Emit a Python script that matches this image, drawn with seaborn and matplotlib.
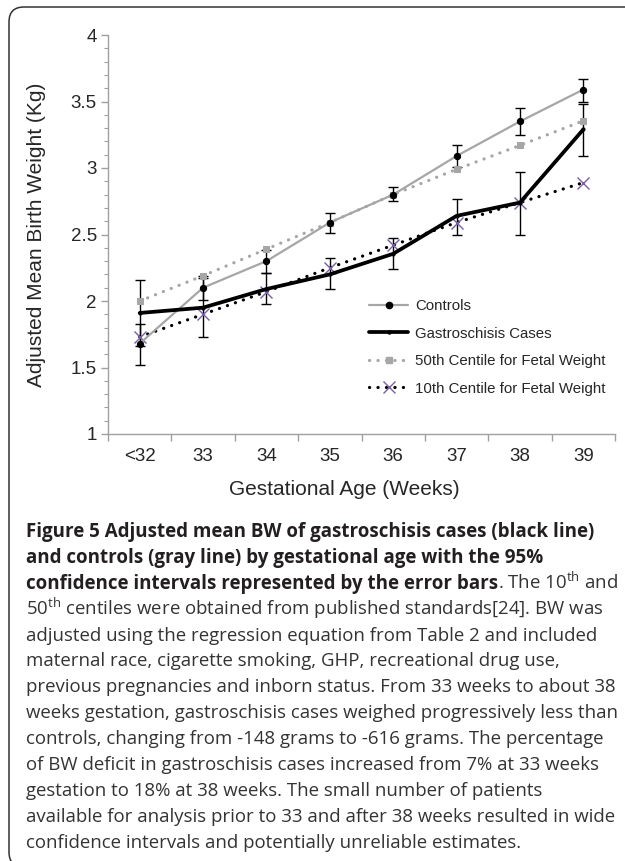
import numpy as np
import pandas as pd
import matplotlib
matplotlib.use("Agg")
import matplotlib.pyplot as plt
import seaborn as sns
from matplotlib.lines import Line2D
from matplotlib.patches import FancyBboxPatch
from matplotlib.ticker import MultipleLocator, FuncFormatter

# ── Datos ───────────────────────────────────────────────────────────────────
weeks = ["<32", "33", "34", "35", "36", "37", "38", "39"]

controls    = [1.68, 2.10, 2.30, 2.59, 2.80, 3.09, 3.35, 3.59]
controls_lo = [1.52, 2.01, 2.21, 2.51, 2.75, 3.01, 3.25, 3.50]
controls_hi = [1.83, 2.19, 2.385, 2.66, 2.86, 3.17, 3.45, 3.67]

cases    = [1.91, 1.95, 2.09, 2.20, 2.355, 2.64, 2.74, 3.29]
cases_lo = [1.66, 1.73, 1.98, 2.09, 2.24, 2.50, 2.50, 3.09]
cases_hi = [2.16, 2.17, 2.21, 2.32, 2.47, 2.77, 2.97, 3.48]

centile50 = [2.00, 2.19, 2.39, 2.59, 2.80, 2.99, 3.17, 3.355]
centile10 = [1.73, 1.90, 2.07, 2.25, 2.42, 2.59, 2.74, 2.89]

labels = ["Controls", "Gastroschisis Cases",
          "50th Centile for Fetal Weight", "10th Centile for Fetal Weight"]

caption_bold = [
    "Figure 5 Adjusted mean BW of gastroschisis cases (black line)",
    "and controls (gray line) by gestational age with the 95%",
    "confidence intervals represented by the error bars",
]
caption_rest = [
    r". The 10$^{\mathrm{th}}$ and",
    r"50$^{\mathrm{th}}$ centiles were obtained from published standards[24]. BW was",
    "adjusted using the regression equation from Table 2 and included",
    "maternal race, cigarette smoking, GHP, recreational drug use,",
    "previous pregnancies and inborn status. From 33 weeks to about 38",
    "weeks gestation, gastroschisis cases weighed progressively less than",
    "controls, changing from -148 grams to -616 grams. The percentage",
    "of BW deficit in gastroschisis cases increased from 7% at 33 weeks",
    "gestation to 18% at 38 weeks. The small number of patients",
    "available for analysis prior to 33 and after 38 weeks resulted in wide",
    "confidence intervals and potentially unreliable estimates.",
]

df = pd.DataFrame({
    "pos": np.arange(len(weeks)),
    "controls": controls,
    "cases": cases,
    "c50": centile50,
    "c10": centile10,
})

# ── Estilo ──────────────────────────────────────────────────────────────────
sns.set_style("white")
plt.rcParams["font.family"] = ["Liberation Sans", "DejaVu Sans"]
plt.rcParams["mathtext.fontset"] = "custom"
plt.rcParams["mathtext.rm"] = "Open Sans"
plt.rcParams["mathtext.bf"] = "Open Sans:bold"

GRAY = "#a6a6a6"
PURPLE = "#7a5fa6"
DOTS = (0, (0.05, 2.6))

st_controls = dict(color=GRAY, lw=1.6, marker="o", ms=4.5, mfc="black", mec="black")
st_cases = dict(color="black", lw=2.7, marker="o", ms=2.2, mfc="black", mec="black")
st_c50 = dict(color=GRAY, lw=2.3, linestyle=DOTS, dash_capstyle="round",
              marker="s", ms=4.5, mfc=GRAY, mec=GRAY)
st_c10 = dict(color="black", lw=2.3, linestyle=DOTS, dash_capstyle="round",
              marker="x", ms=9, mew=1.0, mfc=PURPLE, mec=PURPLE)

W, H = 625, 861
fig = plt.figure(figsize=(W / 100, H / 100), dpi=100)
ax = fig.add_axes([108 / W, 1 - 434 / H, 507 / W, 399 / H])

# barras de error (IC 95 %)
ax.errorbar(df["pos"], controls,
            yerr=[np.subtract(controls, controls_lo), np.subtract(controls_hi, controls)],
            fmt="none", ecolor="black", elinewidth=1, capsize=3.8, capthick=1, zorder=2)
ax.errorbar(df["pos"], cases,
            yerr=[np.subtract(cases, cases_lo), np.subtract(cases_hi, cases)],
            fmt="none", ecolor="black", elinewidth=1, capsize=3.8, capthick=1, zorder=2)

sns.lineplot(data=df, x="pos", y="c50", ax=ax, errorbar=None, zorder=3, **st_c50)
sns.lineplot(data=df, x="pos", y="controls", ax=ax, errorbar=None, zorder=4, **st_controls)
sns.lineplot(data=df, x="pos", y="c10", ax=ax, errorbar=None, zorder=3, **st_c10)
sns.lineplot(data=df, x="pos", y="cases", ax=ax, errorbar=None, zorder=5, **st_cases)

# ejes
ax.set_xlim(-0.5, len(weeks) - 0.5)
ax.set_ylim(1, 4)
ax.yaxis.set_major_locator(MultipleLocator(0.5))
ax.yaxis.set_minor_locator(MultipleLocator(0.1))
ax.yaxis.set_major_formatter(FuncFormatter(lambda v, p: f"{v:g}"))
ax.set_xticks(np.arange(-0.5, len(weeks), 1))
ax.set_xticklabels([])
ax.set_xticks(df["pos"], labels=weeks, minor=True)

for s in ["top", "right"]:
    ax.spines[s].set_visible(False)
for s in ["left", "bottom"]:
    ax.spines[s].set_color("#a0a0a0")
    ax.spines[s].set_linewidth(1.0)

ax.tick_params(axis="y", which="major", direction="out", length=5, width=1,
               color="#a0a0a0", labelsize=13.5, pad=3, left=True)
ax.tick_params(axis="y", which="minor", direction="out", length=3, width=0.8,
               color="#a0a0a0", left=True)
ax.tick_params(axis="x", which="major", direction="out", length=5, width=1,
               color="#a0a0a0", bottom=True)
ax.tick_params(axis="x", which="minor", length=0, labelsize=13.5, pad=10)

ax.set_xlabel("Gestational Age (Weeks)", fontsize=15)
ax.set_ylabel("Adjusted Mean Birth Weight (Kg)", fontsize=15)
ax.xaxis.set_label_coords(0.466, -0.115)
ax.yaxis.set_label_coords(-0.122, 0.5)

handles = [Line2D([], [], **st_controls), Line2D([], [], **st_cases),
           Line2D([], [], **st_c50), Line2D([], [], **st_c10)]
ax.legend(handles, labels, loc="upper left", bbox_to_anchor=(0.515, 0.338),
          frameon=False, fontsize=10.8, handlelength=2.6, handletextpad=0.45,
          labelspacing=0.9, borderpad=0, borderaxespad=0)

# ── Pie de figura ───────────────────────────────────────────────────────────
X0 = 26 / W
BASE0 = 537
STEP = 25.9
CAP = dict(family=["Open Sans", "DejaVu Sans"], va="baseline")

lines_txt = []
for i, t in enumerate(caption_bold):
    lines_txt.append(fig.text(X0, 1 - (BASE0 + i * STEP) / H, t, fontsize=13.5,
                              fontweight="bold", color="#231f20", **CAP))

renderer = fig.canvas.get_renderer()
x_end = lines_txt[2].get_window_extent(renderer=renderer).x1 / fig.bbox.width
fig.text(x_end, 1 - (BASE0 + 2 * STEP) / H, caption_rest[0], fontsize=13.4,
         color="#333333", **CAP)
for j, t in enumerate(caption_rest[1:]):
    fig.text(X0, 1 - (BASE0 + (3 + j) * STEP) / H, t, fontsize=13.4,
             color="#333333", **CAP)

# recuadro redondeado
box = FancyBboxPatch((0.09, -0.06), 6.4, 8.61 - 0.07 + 0.06,
                     boxstyle="round,pad=0,rounding_size=0.15",
                     transform=fig.dpi_scale_trans, fill=False,
                     edgecolor="#333333", linewidth=1.1)
fig.patches.append(box)

fig.savefig("out.png", dpi=100)
